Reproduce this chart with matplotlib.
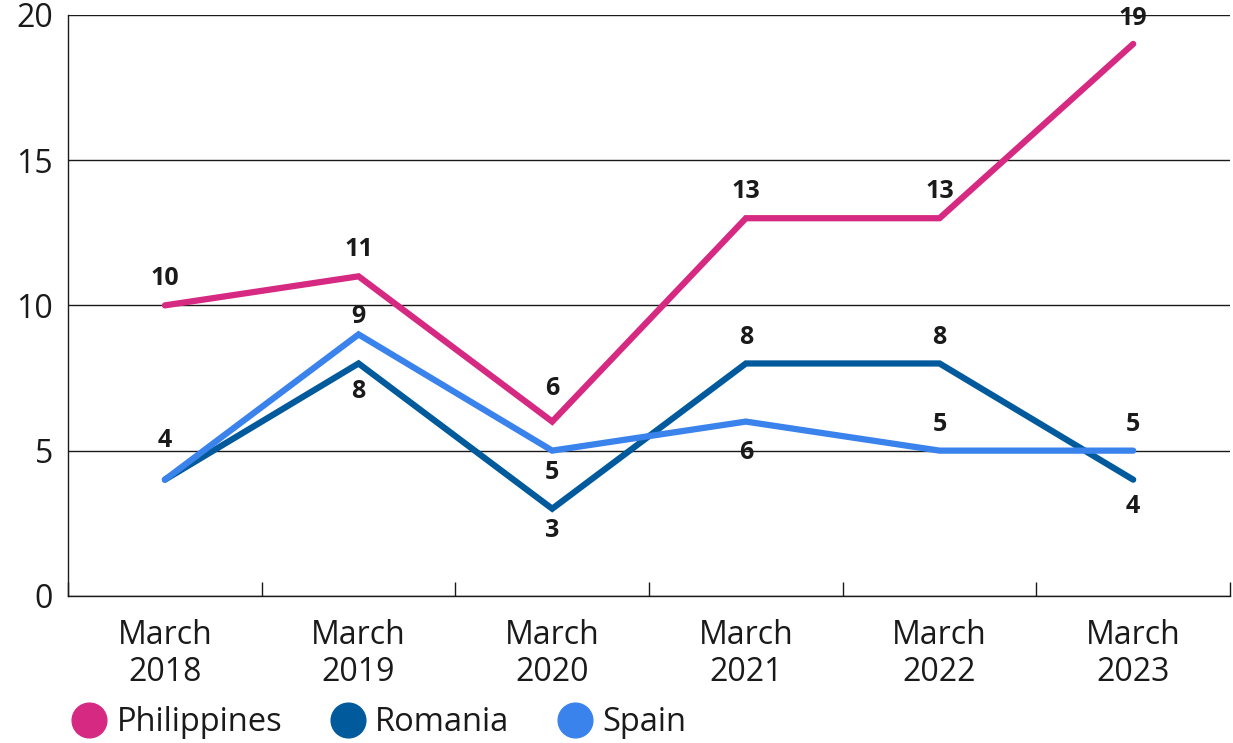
import matplotlib
matplotlib.use("Agg")
import matplotlib.pyplot as plt
from matplotlib.lines import Line2D
import numpy as np

plt.rcParams["font.family"] = ["Open Sans", "DejaVu Sans"]

periods = ["March\n2018", "March\n2019", "March\n2020", "March\n2021", "March\n2022", "March\n2023"]
philippines = [10, 11, 6, 13, 13, 19]
romania = [4, 8, 3, 8, 8, 4]
spain = [4, 9, 5, 6, 5, 5]

# value-label offsets in points (0 = no label)
ph_off = [19, 19, 24, 19, 19, 18]
ro_off = [28, -20, -16, 19, 19, -19]
sp_off = [0, 13, -16, -22, 19, 19]

series = [
    ("Philippines", philippines, ph_off, "#D62A82"),
    ("Romania", romania, ro_off, "#005A9C"),
    ("Spain", spain, sp_off, "#3A82EC"),
]

fig = plt.figure(figsize=(12.33, 7.43), dpi=100)
ax = fig.add_axes([0.0552, 0.198, 0.9424, 0.782])

x = np.arange(len(periods))
for name, vals, offs, col in series:
    ax.plot(x, vals, color=col, linewidth=4.5, solid_capstyle="round",
            solid_joinstyle="miter", zorder=3)
    for xi, v, o in zip(x, vals, offs):
        if o == 0:
            continue
        ax.annotate(str(v), (xi, v), xytext=(0, o), textcoords="offset points",
                    ha="center", va="center", fontsize=18, fontweight="bold",
                    color="#1a1a1a", zorder=4)

ax.set_xlim(-0.5, len(periods) - 0.5)
ax.set_ylim(0, 20)
ax.set_yticks([0, 5, 10, 15, 20])
ax.yaxis.grid(True, color="#1a1a1a", linewidth=1.0)
ax.set_axisbelow(True)
ax.tick_params(axis="y", length=0, labelsize=23, pad=11, colors="#1a1a1a")

ax.set_xticks(x)
ax.set_xticklabels(periods, fontsize=23, color="#1a1a1a", linespacing=1.15)
ax.set_xticks(np.arange(-0.5, len(periods) - 0.4, 1), minor=True)
ax.tick_params(axis="x", which="major", length=0, pad=17)
ax.tick_params(axis="x", which="minor", length=10, direction="in", width=1, color="#1a1a1a")

for s in ["top", "right"]:
    ax.spines[s].set_visible(False)
for s in ["left", "bottom"]:
    ax.spines[s].set_color("#1a1a1a")
    ax.spines[s].set_linewidth(1.0)

handles = [Line2D([], [], linestyle="none", marker="o", markersize=25,
                  markerfacecolor=col, markeredgecolor=col) for _, _, _, col in series]
fig.legend(handles, [s[0] for s in series], loc="center left", bbox_to_anchor=(0.031, 0.027),
           ncol=3, frameon=False, fontsize=23.5, handletextpad=0.2, columnspacing=1.35,
           handlelength=1.3, labelcolor="#1a1a1a")

fig.savefig("out.png", dpi=100)
